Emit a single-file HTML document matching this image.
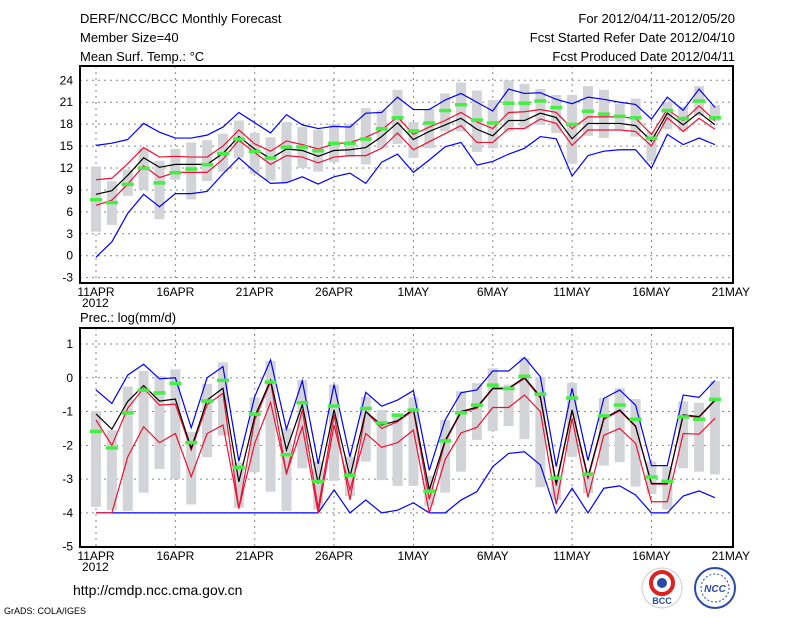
<!DOCTYPE html>
<html><head><meta charset="utf-8"><style>
body{margin:0;background:#fff;}
svg{display:block;font-family:"Liberation Sans",sans-serif;}
</style></head><body>
<svg id="chart" width="800" height="618" viewBox="0 0 800 618" xmlns="http://www.w3.org/2000/svg">
<rect width="800" height="618" fill="#fff"/>
<g font-size="13" fill="#000">
<text x="80" y="23">DERF/NCC/BCC Monthly Forecast</text>
<text x="80" y="42">Member Size=40</text>
<text x="80" y="61">Mean Surf. Temp.: °C</text>
<text x="735" y="23" text-anchor="end">For 2012/04/11-2012/05/20</text>
<text x="735" y="42" text-anchor="end">Fcst Started Refer Date 2012/04/10</text>
<text x="735" y="61" text-anchor="end">Fcst Produced Date 2012/04/11</text>
<text x="80" y="322">Prec.: log(mm/d)</text>
<text x="73" y="595" font-size="14">http://cmdp.ncc.cma.gov.cn</text>
<text x="4" y="614" font-size="9">GrADS: COLA/IGES</text>
</g>
<g>
<circle cx="662" cy="588" r="20" fill="#fff" stroke="#ccc"/>
<circle cx="662" cy="583" r="11" fill="none" stroke="#d22" stroke-width="4"/>
<circle cx="662" cy="583" r="5" fill="#2a4aa8"/>
<text x="662" y="604" font-size="9" font-weight="bold" text-anchor="middle" fill="#2a4aa8">BCC</text>
</g>
<g>
<circle cx="715" cy="588" r="20" fill="#fff" stroke="#2a4aa8" stroke-width="2"/>
<circle cx="715" cy="588" r="14" fill="none" stroke="#2a4aa8" stroke-dasharray="2 2"/>
<text x="715" y="592" font-size="10" font-weight="bold" font-style="italic" text-anchor="middle" fill="#2a4aa8">NCC</text>
</g>
<g id="top"></g>
<g id="bot"></g>
</svg>
<script>
const xTickLabels=["11APR","16APR","21APR","26APR","1MAY","6MAY","11MAY","16MAY","21MAY"];
const tTicks=[-3,0,3,6,9,12,15,18,21,24];
const pTicks=[-5,-4,-3,-2,-1,0,1];
const tMean=[8.4,8.9,11,13.4,12.1,12.5,12.5,12.5,14,16.3,14.6,13.3,14.6,14.4,13.6,14.4,14.5,14.8,16.3,18.2,15.9,17,17.9,18.8,17.3,16.4,18.5,18.5,19.5,18.9,16,18.1,18.1,18.1,17.8,15.7,19.5,17.9,19.6,17.9];
const tRedHi=[10.4,10.6,12.6,14.8,13.5,13.6,13.5,13.5,15,17.2,15.3,14.3,15.7,15.2,14.6,15.3,15.5,16.2,17.2,19,16.6,17.6,18.5,19.6,18.3,17.4,19.6,19.7,20,19.6,17.4,19,19,19,18.8,16.6,20,18.5,20.5,18.5];
const tRedLo=[6.9,7.6,9.8,12.3,10.7,11.4,11.4,11.4,13.2,15.8,14.1,12.5,13.7,13.5,12.7,13.5,13.7,13.7,14.7,16.8,14.5,15.6,16.7,17.8,15.5,15.5,17.4,17.4,18.7,18.1,15.1,17.2,17.2,17.2,17,15,18.9,17,18.8,17.3];
const tMax=[15.1,15.4,15.9,18.1,16.9,16.1,16.1,16.5,17.6,19.6,18.2,16.8,19.3,17.9,17.4,17.7,17.6,19.5,19.6,21.7,20,20,21.3,22.2,21,19.8,22.8,22.2,22.3,21.4,20.8,21.7,21.4,21,20.7,18.7,21.7,19.9,22.8,20.3];
const tMin=[-0.2,1.9,5.8,8.4,6.7,8.5,8.5,8.8,11.2,13.4,11.5,9.9,10,10.8,9.8,10.8,11.3,9.9,12.8,13.9,11.4,13.1,14.9,15.5,12.4,12.9,13.9,14.7,16.3,16,10.9,13.7,14.3,14.5,14.5,12,16.6,15.2,16.1,15.2];
const tBarHi=[12.2,10.2,11.8,14.7,13,14.6,15.5,15.8,16.7,18.5,16.8,16.2,18.3,17.6,17.2,18,18,20.2,19.9,22.7,18.3,20.1,22.2,23.7,22.6,21.3,24,23.5,22.8,22,22,23.2,22.7,20.8,21.5,17,21,20.4,23.2,20.6];
const tBarLo=[3.3,4.2,8.2,9,5,10.4,7.7,10.2,11.5,13.4,11.2,10.3,10,12,11.5,12.8,13.5,12.5,14.7,15.3,13.4,14.7,17,17,14.2,14.7,17,17.3,17.9,16.8,12.6,16.4,16.1,17.3,16.3,12.9,17.3,17,19.1,18.4];
const tObs=[7.7,7.3,9.8,12,10,11.4,11.9,12.5,14,16,14.3,13.4,14.9,14.9,14.4,15.4,15.4,16,17.4,18.9,17.1,18.2,19.9,20.7,18.6,18.2,20.9,20.9,21.2,20.3,18,19.8,19.4,19.1,18.9,16.1,19.9,18.8,21.2,18.9];
const pMean=[-1.07,-1.52,-0.7,-0.23,-0.69,-0.63,-2.09,-0.66,-0.31,-3.08,-1.15,-0.07,-2.14,-0.8,-3.13,-0.95,-2.93,-1,-1.4,-1.27,-0.93,-3.32,-1.86,-1,-0.87,-0.31,-0.31,0.01,-0.56,-3.13,-0.95,-2.93,-1.2,-0.95,-1.43,-3.13,-3.13,-1.1,-1.15,-0.66];
const pRedHi=[-1.25,-2,-0.9,-0.31,-0.81,-0.78,-2.14,-0.8,-0.46,-3.87,-1.25,-0.12,-2.85,-0.95,-3.87,-1.1,-3.62,-1,-1.5,-1.3,-0.97,-3.6,-1.9,-1.03,-0.9,-0.33,-0.33,-0.02,-0.6,-3.2,-0.98,-3.0,-1.23,-0.98,-1.45,-3.15,-3.15,-1.12,-1.17,-0.68];
const pRedLo=[-4,-4,-2.34,-1.45,-1.92,-1.65,-2.93,-1.65,-1.4,-3.87,-1.94,-0.73,-2.83,-1.45,-4,-1.4,-3.32,-1.65,-2.06,-1.92,-1.55,-4,-2.42,-1.63,-1.47,-0.88,-0.88,-0.51,-1,-3.75,-1.2,-3.54,-1.7,-1.5,-1.94,-3.67,-3.67,-1.65,-1.67,-1.2];
const pMax=[-0.36,-0.76,0.08,0.4,-0.03,0,-1.48,0,0.33,-2.47,-0.56,0.53,-1.52,-0.09,-2.55,-0.2,-2.34,-0.43,-0.84,-0.66,-0.38,-2.74,-1.25,-0.44,-0.36,0.2,0.2,0.6,0.03,-2.63,-0.31,-2.45,-0.61,-0.36,-0.81,-2.6,-2.6,-0.51,-0.58,-0.08];
const pMin=[-4,-4,-4,-4,-4,-4,-4,-4,-4,-4,-4,-4,-4,-4,-4,-3.32,-4,-3.62,-4,-3.92,-3.7,-4,-4,-3.62,-3.37,-2.63,-2.24,-2.19,-2.58,-4,-3.27,-4,-3.27,-3.2,-3.47,-4,-4,-3.5,-3.35,-3.55];
const pBarHi=[-0.98,-1.55,-0.26,0.2,0.05,0.25,-1.6,-0.18,0.46,-2.5,-0.58,0.5,-1.5,-0.07,-2.48,-0.2,-2.34,-0.56,-0.95,-1.05,-0.58,-2.9,-1.25,-0.4,-0.16,0.28,-0.2,0.58,0.03,-2.88,-0.15,-2.78,-0.59,-0.31,-0.63,-2.48,-2.63,-0.7,-0.74,-0.1];
const pBarLo=[-3.82,-3.92,-3.94,-3.4,-2.7,-3.0,-3.75,-2.35,-1.71,-3.85,-2.8,-3.37,-3.94,-2.68,-3.9,-3.05,-3.5,-2.48,-3.03,-3.2,-3.2,-3.79,-3.4,-2.78,-1.84,-1.58,-1.43,-1.82,-3.24,-3.62,-2.34,-3.42,-2.6,-2.5,-3.22,-3.44,-3.9,-2.68,-2.78,-2.86];
const pObs=[-1.58,-2.07,-1.03,-0.36,-0.44,-0.16,-1.91,-0.68,-0.07,-2.65,-1.07,-0.12,-2.27,-0.73,-3.06,-0.83,-2.88,-0.9,-1.33,-1.1,-0.95,-3.35,-1.86,-1.03,-0.8,-0.21,-0.31,0.05,-0.48,-2.96,-0.59,-2.85,-1.12,-0.8,-1.22,-2.93,-3.06,-1.15,-1.22,-0.63];

const NS="http://www.w3.org/2000/svg";
function mk(parent,tag,attrs){const e=document.createElementNS(NS,tag);for(const k in attrs)e.setAttribute(k,attrs[k]);parent.appendChild(e);return e;}
const xs=d=>96+d*15.87;

function panel(g,cfg){
  const {top,bottom,y,ticks,series,barHi,barLo,obs}=cfg;
  // grid
  ticks.forEach(v=>{
    const l=mk(g,'line',{x1:80,x2:733,y1:y(v),y2:y(v),stroke:'#888','stroke-dasharray':'2 4','stroke-width':1});
    
    
    const t=mk(g,'text',{x:73,y:y(v)+4,'text-anchor':'end','font-size':12});
    t.textContent=v;
    
    
  });
  xTickLabels.forEach((s,i)=>{
    const x=xs(i*5);
    if(i<8){const l=mk(g,'line',{x1:x,x2:x,y1:top,y2:bottom,stroke:'#888','stroke-dasharray':'2 4','stroke-width':1});
    
    }
    const t=mk(g,'text',{x:x,y:bottom+13,'text-anchor':'middle','font-size':12});
    t.textContent=s;
    
    
  });
  const yr=mk(g,'text',{x:82,y:bottom+24,'font-size':12});
  yr.textContent='2012';
  
  
  // bars
  barHi.forEach((h,i)=>{
    const r=mk(g,'rect',{x:xs(i)-5,y:y(h),width:10,height:Math.max(1,y(barLo[i])-y(h)),fill:'#d3d4d8'});
    
    
  });
  series.forEach(s=>{
    const p=mk(g,'polyline',{points:s.d.map((v,i)=>xs(i)+','+y(v)).join(' '),fill:'none',stroke:s.c,'stroke-width':1.2});
    
    
  });
  obs.forEach((v,i)=>{
    const r=mk(g,'rect',{x:xs(i)-6,y:y(v)-1.5,width:12,height:3.5,fill:'#44ee44'});
    
    
  });
  const f=mk(g,'rect',{x:80,y:top,width:653,height:bottom-top,fill:'none',stroke:'#000','stroke-width':2});
  
  
}
const yT=v=>80.3+(24-v)*7.31;
const yP=v=>344+(1-v)*33.78;
panel(document.getElementById('top'),{top:66,bottom:283,y:yT,ticks:tTicks,barHi:tBarHi,barLo:tBarLo,obs:tObs,
 series:[{d:tMax,c:'#0000ff',n:'max-line'},{d:tMin,c:'#0000ff',n:'min-line'},{d:tRedHi,c:'#ee1133',n:'upper-red-line'},{d:tRedLo,c:'#ee1133',n:'lower-red-line'},{d:tMean,c:'#000',n:'mean-line'}]});
panel(document.getElementById('bot'),{top:328,bottom:547,y:yP,ticks:pTicks,barHi:pBarHi,barLo:pBarLo,obs:pObs,
 series:[{d:pMax,c:'#0000ff',n:'max-line'},{d:pMin,c:'#0000ff',n:'min-line'},{d:pRedHi,c:'#ee1133',n:'upper-red-line'},{d:pRedLo,c:'#ee1133',n:'lower-red-line'},{d:pMean,c:'#000',n:'mean-line'}]});
</script>
</body></html>
